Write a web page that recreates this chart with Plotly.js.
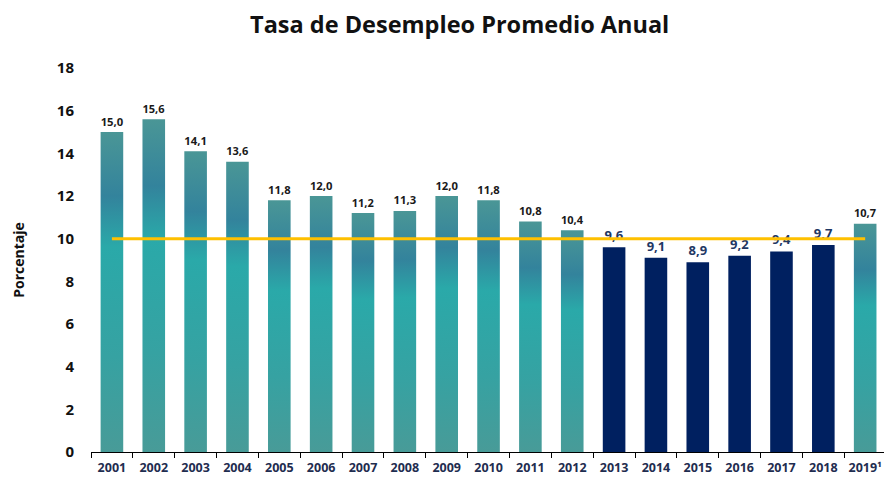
<!DOCTYPE html>
<html>
<head>
<meta charset="utf-8">
<script src="https://cdn.plot.ly/plotly-3.0.1.min.js"></script>
<style>
html,body{margin:0;padding:0;background:#fff;}
#chart{width:884px;height:478px;}
</style>
</head>
<body>
<div id="chart"></div>
<script>
const years = ["2001","2002","2003","2004","2005","2006","2007","2008","2009","2010","2011","2012","2013","2014","2015","2016","2017","2018","2019¹"];
const rates = [15.0,15.6,14.1,13.6,11.8,12.0,11.2,11.3,12.0,11.8,10.8,10.4,9.6,9.1,8.9,9.2,9.4,9.7,10.7];
const highlighted = [false,false,false,false,false,false,false,false,false,false,false,false,true,true,true,true,true,true,false];
const referenceLevel = 10;

const TEAL = '#3a9ea0';
const NAVY = '#002060';

const barTrace = {
  type: 'bar',
  x: years,
  y: rates,
  marker: {color: highlighted.map(h => h ? NAVY : TEAL), line: {width: 0}},
  texttemplate: '%{y:.1f}',
  textposition: 'outside',
  cliponaxis: false,
  textfont: {family: 'Open Sans', size: 13, weight: 'bold', color: highlighted.map(h => h ? '#1f3864' : '#1a1a1a')},
  hoverinfo: 'x+y'
};

const lineTrace = {
  type: 'scatter',
  mode: 'lines',
  x: [years[0], years[years.length - 1]],
  y: [referenceLevel, referenceLevel],
  line: {color: '#ffc000', width: 3},
  hoverinfo: 'skip'
};

const layout = {
  width: 884, height: 478,
  margin: {l: 91, r: 0, t: 68, b: 26},
  paper_bgcolor: '#ffffff', plot_bgcolor: '#ffffff',
  separators: ',.',
  showlegend: false,
  bargap: 0.46,
  title: {
    text: 'Tasa de Desempleo Promedio Anual',
    font: {family: 'Open Sans', size: 23.5, weight: 'bold', color: '#111111'},
    xref: 'container', x: 0.52, xanchor: 'center',
    yref: 'container', y: 0.948, yanchor: 'middle'
  },
  xaxis: {
    type: 'category',
    range: [-0.5, 18.45],
    showline: true, linecolor: '#000000', linewidth: 1,
    ticks: 'outside', tickson: 'boundaries', ticklen: 5, tickcolor: '#000000',
    ticklabelstandoff: 4,
    tickfont: {family: 'Open Sans', size: 12.5, weight: 'bold', color: '#1f2d50'},
    showgrid: false, zeroline: false, fixedrange: true
  },
  yaxis: {
    range: [0, 18],
    dtick: 2, tick0: 0,
    showline: false, showgrid: false, zeroline: false,
    ticks: '', ticklabelstandoff: 16,
    tickfont: {family: 'Open Sans', size: 15, weight: 'bold', color: '#111111'},
    title: {text: 'Porcentaje', standoff: 28, font: {family: 'Open Sans', size: 14, weight: 'bold', color: '#111111'}},
    automargin: false
  }
};

Plotly.newPlot('chart', [barTrace, lineTrace], layout, {displayModeBar: false, staticPlot: true}).then(gd => {
  const svg = gd.querySelector('svg.main-svg');
  const ns = 'http://www.w3.org/2000/svg';
  let defs = svg.querySelector('defs');
  if (!defs) { defs = document.createElementNS(ns, 'defs'); svg.insertBefore(defs, svg.firstChild); }
  const grad = document.createElementNS(ns, 'linearGradient');
  grad.setAttribute('id', 'tealGrad');
  grad.setAttribute('x1', '0'); grad.setAttribute('y1', '0');
  grad.setAttribute('x2', '0'); grad.setAttribute('y2', '1');
  const stops = [[0, '#4a9696'], [0.2, '#33839c'], [0.36, '#2aa9a9'], [0.7, '#36a2a2'], [1, '#489b98']];
  stops.forEach(([o, c]) => {
    const s = document.createElementNS(ns, 'stop');
    s.setAttribute('offset', o);
    s.setAttribute('stop-color', c);
    grad.appendChild(s);
  });
  defs.appendChild(grad);
  const paths = gd.querySelectorAll('.barlayer .trace .point path');
  paths.forEach((p, i) => {
    if (!highlighted[i]) p.style.setProperty('fill', 'url(#tealGrad)');
  });
});
</script>
</body>
</html>
